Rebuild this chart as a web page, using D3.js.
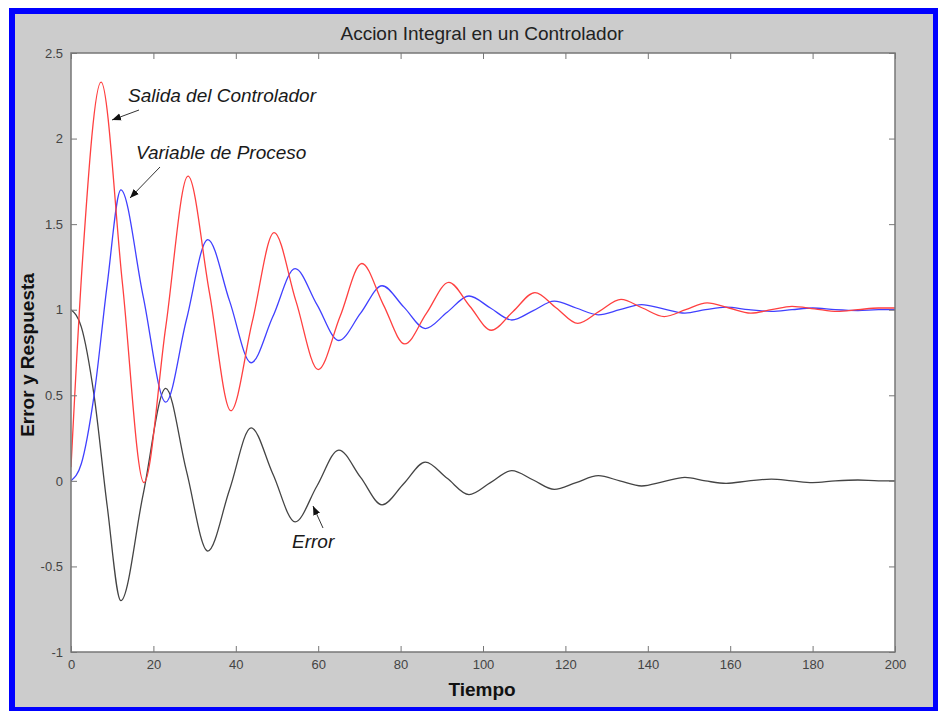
<!DOCTYPE html>
<html>
<head>
<meta charset="utf-8">
<script src="https://cdn.jsdelivr.net/npm/d3@7"></script>
<style>
  body { margin: 0; background: #fff; }
  svg { display: block; font-family: "Liberation Sans", Arial, sans-serif; }
</style>
</head>
<body>
<script>
// values (tiempo, valor)
var salidaT = [0, 2.8, 7.3, 12.5, 17.7, 23, 28.4, 33.6, 38.8, 44, 49.3, 54.6, 60, 65.3, 70.6, 75.8, 81, 86.3, 91.7, 96.8, 102, 107.3, 112.6, 117.8, 123, 128.2, 133.5, 138.7, 144, 149.2, 154.4, 159.7, 165, 170, 175, 180.5, 186, 191, 196, 200];
var salidaV = [0.08, 1.29, 2.33, 1.15, -0.01, 0.9, 1.78, 1.1, 0.41, 0.93, 1.45, 1.05, 0.65, 0.96, 1.27, 1.03, 0.80, 0.98, 1.16, 1.02, 0.88, 0.99, 1.10, 1.01, 0.92, 0.99, 1.06, 1.01, 0.96, 1.0, 1.04, 1.01, 0.98, 1.0, 1.02, 1.005, 0.99, 1.0, 1.01, 1.01];

var procesoT = [0, 2.5, 5.6, 8.8, 12.1, 17.5, 23, 28, 33.2, 38.5, 43.7, 49, 54.4, 59.7, 65, 70.3, 75.5, 80.8, 86, 91.3, 96.6, 101.8, 107, 112.2, 117.3, 122.6, 128, 133.2, 138.5, 143.8, 149, 154, 159, 164.5, 170, 175, 180, 185.5, 191, 196, 200];
var procesoV = [0, 0.1, 0.5, 1.15, 1.70, 1.08, 0.46, 0.94, 1.41, 1.05, 0.69, 0.96, 1.24, 1.03, 0.82, 0.98, 1.14, 1.015, 0.89, 0.985, 1.08, 1.01, 0.94, 0.995, 1.05, 1.01, 0.97, 1.0, 1.03, 1.005, 0.98, 1.0, 1.015, 1.0, 0.99, 1.0, 1.01, 1.0, 0.995, 1.0, 1.0];

var errorT = procesoT;
var errorV = [1.0, 0.9, 0.5, -0.15, -0.70, -0.08, 0.54, 0.06, -0.41, -0.05, 0.31, 0.04, -0.24, -0.03, 0.18, 0.02, -0.14, -0.015, 0.11, 0.015, -0.08, -0.01, 0.06, 0.005, -0.05, -0.01, 0.03, 0.0, -0.03, -0.005, 0.02, 0.0, -0.015, 0.0, 0.01, 0.0, -0.01, 0.0, 0.005, 0.0, 0.0];

var xTicks = [0, 20, 40, 60, 80, 100, 120, 140, 160, 180, 200];
var yTicks = [-1, -0.5, 0, 0.5, 1, 1.5, 2, 2.5];

var titulo = "Accion Integral en un Controlador";
var xLabel = "Tiempo";
var yLabel = "Error y Respuesta";

var width = 938, height = 711;

var svg = d3.select("body").append("svg")
    .attr("width", width)
    .attr("height", height);

// blue frame + grey figure background
svg.append("rect").attr("x", 9).attr("y", 8).attr("width", 929).attr("height", 703).attr("fill", "#0000ff");
svg.append("rect").attr("x", 15).attr("y", 14).attr("width", 918).attr("height", 693).attr("fill", "#cccccc");

var mLeft = 71, mRight = 895, mTop = 53, mBottom = 652;

var scalex = d3.scaleLinear().domain([0, 200]).range([mLeft, mRight]);
var scaley = d3.scaleLinear().domain([-1, 2.5]).range([mBottom, mTop]);

svg.append("rect")
    .attr("x", mLeft).attr("y", mTop)
    .attr("width", mRight - mLeft).attr("height", mBottom - mTop)
    .attr("fill", "#fff");

var line = d3.line()
    .x(d => scalex(d[0]))
    .y(d => scaley(d[1]))
    .curve(d3.curveMonotoneX);

var series = [
  {t: errorT, v: errorV, color: "#444"},
  {t: procesoT, v: procesoV, color: "#4040ff"},
  {t: salidaT, v: salidaV, color: "#ff4040"}
];

var plot = svg.append("g");
plot.append("clipPath").attr("id", "clip")
  .append("rect").attr("x", mLeft).attr("y", mTop).attr("width", mRight - mLeft).attr("height", mBottom - mTop);

series.forEach(function(s) {
  plot.append("path")
    .datum(s.t.map((t, i) => [t, s.v[i]]))
    .attr("clip-path", "url(#clip)")
    .attr("fill", "none")
    .attr("stroke", s.color)
    .attr("stroke-width", 1.3)
    .attr("d", line);
});

// axes, MATLAB style: ticks inside, box all round
var tickColor = "#777";
function styleAxis(g) {
  g.select(".domain").remove();
  g.selectAll(".tick line").attr("stroke", tickColor);
  g.selectAll(".tick text").attr("fill", "#444").style("font-size", "13px");
}

svg.append("g")
    .attr("transform", `translate(0, ${mBottom})`)
    .call(d3.axisBottom(scalex).tickValues(xTicks).tickSizeInner(-6).tickSizeOuter(0).tickPadding(8))
    .call(styleAxis);
svg.append("g")
    .attr("transform", `translate(0, ${mTop})`)
    .call(d3.axisTop(scalex).tickValues(xTicks).tickSizeInner(-6).tickSizeOuter(0).tickFormat(""))
    .call(styleAxis);
svg.append("g")
    .attr("transform", `translate(${mLeft}, 0)`)
    .call(d3.axisLeft(scaley).tickValues(yTicks).tickSizeInner(-6).tickSizeOuter(0).tickPadding(8).tickFormat(d => String(d)))
    .call(styleAxis);
svg.append("g")
    .attr("transform", `translate(${mRight}, 0)`)
    .call(d3.axisRight(scaley).tickValues(yTicks).tickSizeInner(-6).tickSizeOuter(0).tickFormat(""))
    .call(styleAxis);

svg.append("rect")
    .attr("x", mLeft).attr("y", mTop)
    .attr("width", mRight - mLeft).attr("height", mBottom - mTop)
    .attr("fill", "none")
    .attr("stroke", tickColor)
    .attr("stroke-width", 1.5);

// titles
svg.append("text")
    .attr("x", 482).attr("y", 40)
    .attr("text-anchor", "middle")
    .style("font-size", "19px")
    .attr("fill", "#222")
    .text(titulo);

svg.append("text")
    .attr("x", 482).attr("y", 696)
    .attr("text-anchor", "middle")
    .style("font-size", "19px").style("font-weight", "bold")
    .attr("fill", "#111")
    .text(xLabel);

svg.append("text")
    .attr("transform", "translate(34, 355) rotate(-90)")
    .attr("text-anchor", "middle")
    .style("font-size", "19px").style("font-weight", "bold")
    .attr("fill", "#111")
    .text(yLabel);

// annotations with arrows
svg.append("defs").append("marker")
    .attr("id", "arrow")
    .attr("viewBox", "0 0 10 10")
    .attr("refX", 10).attr("refY", 5)
    .attr("markerWidth", 9).attr("markerHeight", 9)
    .attr("orient", "auto")
  .append("path").attr("d", "M0,1 L10,5 L0,9 Z").attr("fill", "#111");

var notas = [
  {text: "Salida del Controlador", tx: 128, ty: 102, ax1: 139, ay1: 110, ax2: 112, ay2: 120},
  {text: "Variable de Proceso", tx: 136, ty: 159, ax1: 160, ay1: 167, ax2: 130, ay2: 198},
  {text: "Error", tx: 292, ty: 548, ax1: 323, ay1: 528, ax2: 313, ay2: 506}
];

notas.forEach(function(n) {
  svg.append("text")
    .attr("x", n.tx).attr("y", n.ty)
    .style("font-size", "19px").style("font-style", "italic")
    .attr("fill", "#1a1a1a")
    .text(n.text);
  svg.append("line")
    .attr("x1", n.ax1).attr("y1", n.ay1)
    .attr("x2", n.ax2).attr("y2", n.ay2)
    .attr("stroke", "#333").attr("stroke-width", 1)
    .attr("marker-end", "url(#arrow)");
});
</script>
</body>
</html>
